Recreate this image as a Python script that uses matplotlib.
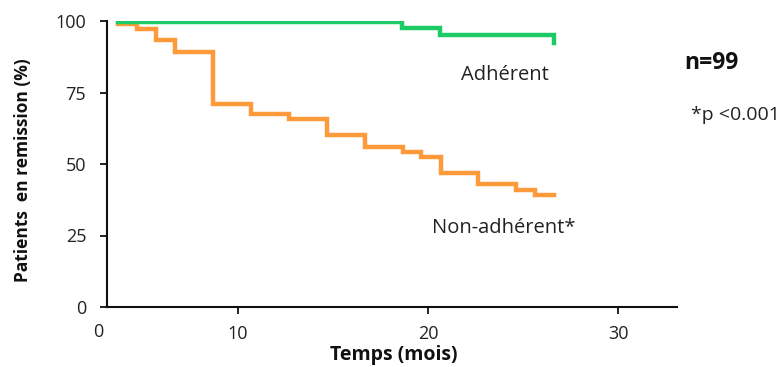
import matplotlib
matplotlib.use("Agg")
import matplotlib.pyplot as plt

plt.rcParams['font.family'] = ['Open Sans', 'DejaVu Sans']

# Kaplan-Meier style step data (months, % in remission)
adherent_t = [3.7, 18.6, 20.6, 26.6, 26.6]
adherent_y = [99.5, 97.6, 95.1, 95.1, 92.4]

non_adherent_t = [3.7, 4.7, 5.7, 6.7, 8.7, 10.7, 12.7, 14.7, 16.7, 18.7, 19.6, 20.7, 22.6, 24.6, 25.6, 26.6]
non_adherent_y = [99.0, 97.3, 93.4, 89.3, 71.1, 67.4, 65.6, 60.3, 56.0, 54.1, 52.3, 46.9, 42.9, 40.9, 39.0, 39.0]

x_ticks = [10, 20, 30]
y_ticks = [0, 25, 50, 75, 100]

green = '#1CCB66'
orange = '#FF9A3A'
text_col = '#222222'

fig = plt.figure(figsize=(7.84, 3.67), dpi=100)
ax = fig.add_axes([107/784, 1-307/367, (677-107)/784, (307-21)/367])

ax.step(non_adherent_t, non_adherent_y, where='post', color=orange, lw=3.2, solid_joinstyle='miter')
ax.step(adherent_t, adherent_y, where='post', color=green, lw=3.2, solid_joinstyle='miter')

ax.set_xlim(3.1, 33.1)
ax.set_ylim(0, 100)
ax.set_xticks(x_ticks)
ax.set_yticks(y_ticks)
ax.spines['top'].set_visible(False)
ax.spines['right'].set_visible(False)
for s in ('left', 'bottom'):
    ax.spines[s].set_linewidth(1.5)
    ax.spines[s].set_color('#111111')
ax.tick_params(axis='both', direction='out', width=1.3, length=5, colors='#111111',
               labelsize=13, labelcolor=text_col)
ax.tick_params(axis='x', pad=8)
ax.tick_params(axis='y', pad=10)
ax.text(-0.016, -0.087, '0', transform=ax.transAxes, ha='center', va='center',
        fontsize=13, color=text_col)

ax.set_xlabel('Temps (mois)', fontsize=14, fontweight='bold', color='#111111')
ax.xaxis.set_label_coords(0.503, -0.132)
ax.set_ylabel('Patients  en remission (%)', fontsize=12.5, fontweight='bold', color='#111111')
ax.yaxis.set_label_coords(-0.132, 0.48)

fig.text(505/784, 1-75/367, 'Adhérent', fontsize=14.5, color=text_col, ha='center', va='center')
fig.text(504/784, 1-228/367, 'Non-adhérent*', fontsize=14.5, color=text_col, ha='center', va='center')
fig.text(711/784, 1-63/367, 'n=99', fontsize=16.5, fontweight='bold', color='#111111', ha='center', va='center')
fig.text(691/784, 1-115/367, '*p <0.001', fontsize=14, color=text_col, ha='left', va='center')

fig.savefig('out.png', dpi=100)
